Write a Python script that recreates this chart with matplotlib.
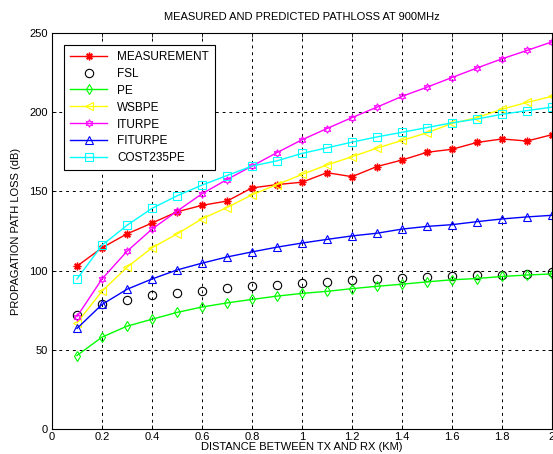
import numpy as np
import matplotlib.pyplot as plt
from matplotlib.ticker import FormatStrFormatter

plt.rcParams.update({
    "font.family": ["Liberation Sans", "DejaVu Sans"],
    "font.size": 8,
    "xtick.direction": "in",
    "ytick.direction": "in",
})

dist = [0.1, 0.2, 0.3, 0.4, 0.5, 0.6, 0.7, 0.8, 0.9, 1.0,
        1.1, 1.2, 1.3, 1.4, 1.5, 1.6, 1.7, 1.8, 1.9, 2.0]

measurement = [102.8, 114.4, 123.2, 130.0, 137.1, 141.2, 143.9, 152.2, 154.3, 155.8,
               161.8, 159.3, 165.7, 169.8, 174.7, 176.6, 180.9, 183.1, 181.8, 185.8]
fsl = [72.2, 78.6, 81.2, 84.4, 86.0, 86.9, 88.9, 90.3, 91.0, 92.0,
       92.5, 94.0, 94.4, 95.3, 96.1, 96.6, 97.2, 97.4, 97.8, 98.9]
pe = [46.4, 58.0, 64.9, 69.3, 73.6, 77.0, 79.6, 81.8, 83.9, 85.6,
      86.9, 88.6, 90.1, 91.4, 92.9, 94.2, 95.0, 96.3, 97.2, 97.9]
wsbpe = [67.0, 87.0, 102.1, 114.4, 123.1, 132.7, 139.8, 147.9, 154.3, 160.7,
         166.7, 171.9, 177.3, 182.2, 187.0, 192.9, 196.6, 201.9, 206.2, 210.0]
iturpe = [71.0, 94.7, 112.2, 126.2, 137.5, 148.5, 157.5, 166.0, 174.5, 182.6,
          189.7, 196.6, 203.2, 210.0, 215.8, 221.9, 227.9, 233.7, 239.0, 244.4]
fiturpe = [63.5, 78.6, 88.2, 94.7, 100.4, 104.7, 108.6, 111.8, 114.8, 117.4,
           119.7, 121.9, 123.6, 126.2, 127.9, 129.0, 130.9, 132.6, 133.9, 134.9]
cost235pe = [94.7, 116.0, 128.6, 139.3, 147.2, 154.0, 160.0, 166.0, 169.3, 174.0,
             177.5, 181.1, 184.4, 187.3, 190.3, 193.3, 195.7, 198.7, 201.0, 203.2]

fig = plt.figure(figsize=(5.53, 4.54), dpi=100)
ax = fig.add_axes([52/553, 25/454, 500/553, 396/454])

ms = 5.5
ax.plot(dist, measurement, color='red', marker=(8, 2, 0), ms=ms, lw=1, mew=1, label='MEASUREMENT')
ax.plot(dist, fsl, color='black', marker='o', ms=ms+0.5, ls='none', mfc='none', mew=0.8, label='FSL')
ax.plot(dist, pe, color='#00ff00', marker='d', ms=ms, lw=1, mfc='none', mew=0.8, label='PE')
ax.plot(dist, wsbpe, color='#ffff00', marker='<', ms=ms+0.5, lw=1, mfc='none', mew=0.8, label='WSBPE')
ax.plot(dist, iturpe, color='magenta', marker=(6, 1, 0), ms=ms, lw=1, mfc='none', mew=0.8, label='ITURPE')
ax.plot(dist, fiturpe, color='blue', marker='^', ms=ms+0.5, lw=1, mfc='none', mew=0.8, label='FITURPE')
ax.plot(dist, cost235pe, color='cyan', marker='s', ms=ms, lw=1, mfc='none', mew=0.8, label='COST235PE')

ax.set_xlim(0, 2)
ax.set_ylim(0, 250)
ax.set_xticks(np.arange(0, 2.01, 0.2))
ax.set_yticks(np.arange(0, 251, 50))
ax.xaxis.set_major_formatter(FormatStrFormatter('%g'))
ax.grid(True, color='black', ls=(0, (3, 4)), lw=0.7)
ax.tick_params(top=True, right=True, length=3, width=0.6)
ax.tick_params(axis='x', pad=2)
ax.tick_params(axis='y', pad=3)
for s in ax.spines.values():
    s.set_linewidth(0.8)

ax.set_title('MEASURED AND PREDICTED PATHLOSS AT 900MHz', fontsize=8, pad=9)
ax.set_xlabel('DISTANCE BETWEEN TX AND RX (KM)', labelpad=0)
ax.set_ylabel('PROPAGATION PATH LOSS (dB)', labelpad=6)

leg = ax.legend(loc='upper left', fancybox=False, edgecolor='black', framealpha=1,
                fontsize=8.5, handlelength=3.2, borderaxespad=1.0, labelspacing=0.42,
                borderpad=0.5)
leg.get_frame().set_linewidth(0.8)

fig.savefig('out.png', dpi=100)
